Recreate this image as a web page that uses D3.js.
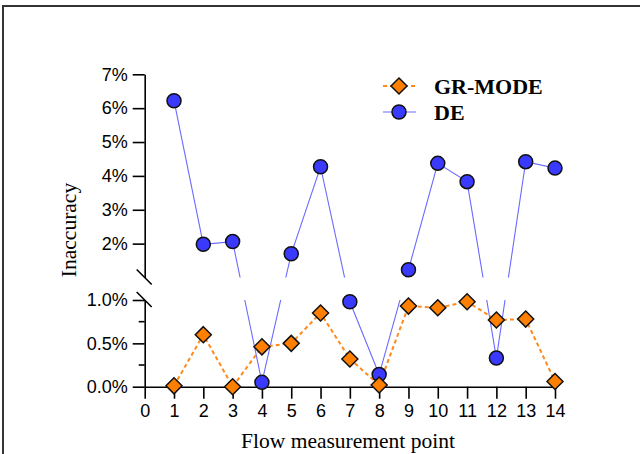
<!DOCTYPE html>
<html>
<head>
<meta charset="utf-8">
<script src="https://cdn.jsdelivr.net/npm/d3@7"></script>
<style>
  body { margin: 0; background: #fff; }
  svg { display: block; }
  .tick text { font-family: "Liberation Sans", Arial, sans-serif; font-size: 18px; fill: #000; }
  .axis path, .axis line { stroke: #000; stroke-width: 1.6; }
  .title { font-family: "Liberation Serif", "Times New Roman", serif; font-size: 21.5px; fill: #000; }
  .legend text { font-family: "Liberation Serif", "Times New Roman", serif; font-size: 22px; font-weight: bold; fill: #000; }
</style>
</head>
<body>
<svg id="chart" width="640" height="454"></svg>
<script>
// flow measurement points
var points = [1, 2, 3, 4, 5, 6, 7, 8, 9, 10, 11, 12, 13, 14];
// inaccuracy in percent
var grMode = [0.01, 0.60, 0.00, 0.46, 0.50, 0.85, 0.32, 0.02, 0.93, 0.91, 0.98, 0.77, 0.78, 0.06];
var de = [6.22, 1.98, 2.06, 0.05, 1.70, 4.27, 0.98, 0.14, 1.23, 4.37, 3.83, 0.33, 4.42, 4.23];
// tick labels
var xTicks = d3.range(0, 15);
var yTicksHigh = [2, 3, 4, 5, 6, 7];
var yTicksLow = [0, 0.5, 1];
var yMinorLow = [0.25, 0.75];
var seriesNames = ["GR-MODE", "DE"];

var svg = d3.select("#chart");

// frame round the figure
svg.append("path")
  .attr("d", "M3,454V6H640")
  .attr("fill", "none")
  .attr("stroke", "#333")
  .attr("stroke-width", 2);

var x = d3.scaleLinear().domain([0, 14]).range([144.7, 555]);
// broken y axis: low part 0-1 %, high part 1-7 %
var yLow = d3.scaleLinear().domain([0, 1]).range([386.7, 300]);
var yHigh = d3.scaleLinear().domain([1, 7]).range([277.5, 74.3]);

function yPos(v) {
  return v > 1 ? yHigh(v) : yLow(v);
}

// clip the lines so nothing is drawn inside the gap
var defs = svg.append("defs");
var clip = defs.append("clipPath").attr("id", "gapclip");
clip.append("rect").attr("x", 0).attr("y", 0).attr("width", 640).attr("height", yHigh(1));
clip.append("rect").attr("x", 0).attr("y", yLow(1)).attr("width", 640).attr("height", 454 - yLow(1));

// x axis
svg.append("g")
  .attr("class", "axis")
  .attr("transform", "translate(0," + yLow(0) + ")")
  .call(d3.axisBottom(x).tickValues(xTicks).tickSize(12).tickSizeOuter(0).tickPadding(6));

// upper y axis
svg.append("g")
  .attr("class", "axis")
  .attr("transform", "translate(" + x(0) + ",0)")
  .call(d3.axisLeft(yHigh).tickValues(yTicksHigh).tickSize(12).tickSizeOuter(0).tickPadding(5)
    .tickFormat(function (d) { return d + "%"; }));

// lower y axis
svg.append("g")
  .attr("class", "axis")
  .attr("transform", "translate(" + x(0) + ",0)")
  .call(d3.axisLeft(yLow).tickValues(yTicksLow).tickSize(12).tickSizeOuter(0).tickPadding(5)
    .tickFormat(function (d) { return d.toFixed(1) + "%"; }));

svg.append("g")
  .attr("class", "axis")
  .attr("transform", "translate(" + x(0) + ",0)")
  .selectAll("line")
  .data(yMinorLow)
  .enter()
  .append("line")
  .attr("x1", -6)
  .attr("x2", 0)
  .attr("y1", function (d) { return yLow(d); })
  .attr("y2", function (d) { return yLow(d); });

// break marks
[yHigh(1), yLow(1)].forEach(function (yy) {
  svg.append("line")
    .attr("x1", x(0) - 8).attr("y1", yy - 8)
    .attr("x2", x(0) + 7).attr("y2", yy + 7)
    .attr("stroke", "#000")
    .attr("stroke-width", 1.6);
});

// lines
var line = d3.line()
  .x(function (d, i) { return x(points[i]); })
  .y(function (d) { return yPos(d); });

svg.append("path")
  .datum(de)
  .attr("clip-path", "url(#gapclip)")
  .attr("fill", "none")
  .attr("stroke", "#6a6aff")
  .attr("stroke-width", 1.1)
  .attr("d", line);

svg.append("path")
  .datum(grMode)
  .attr("clip-path", "url(#gapclip)")
  .attr("fill", "none")
  .attr("stroke", "#ff8a1c")
  .attr("stroke-width", 2)
  .attr("stroke-dasharray", "4,3")
  .attr("d", line);

// markers
var diamond = "M0,-8L8,0L0,8L-8,0Z";

svg.append("g").selectAll("circle")
  .data(de)
  .enter()
  .append("circle")
  .attr("cx", function (d, i) { return x(points[i]); })
  .attr("cy", function (d) { return yPos(d); })
  .attr("r", 7)
  .attr("fill", "#3a3aff")
  .attr("stroke", "#111")
  .attr("stroke-width", 1.5);

svg.append("g").selectAll("path")
  .data(grMode)
  .enter()
  .append("path")
  .attr("d", diamond)
  .attr("transform", function (d, i) { return "translate(" + x(points[i]) + "," + yPos(d) + ")"; })
  .attr("fill", "#ff8000")
  .attr("stroke", "#111")
  .attr("stroke-width", 1.5);

// axis titles
svg.append("text")
  .attr("class", "title")
  .attr("x", 348)
  .attr("y", 448)
  .attr("text-anchor", "middle")
  .text("Flow measurement point");

svg.append("text")
  .attr("class", "title")
  .attr("transform", "translate(76,230) rotate(-90)")
  .attr("text-anchor", "middle")
  .text("Inaccuracy");

// legend
var legend = svg.append("g").attr("class", "legend").attr("transform", "translate(383,86)");

var gl = legend.append("g");
gl.append("line").attr("x1", 0).attr("x2", 33).attr("y1", 0).attr("y2", 0)
  .attr("stroke", "#ff8a1c").attr("stroke-width", 2).attr("stroke-dasharray", "4,3");
gl.append("path").attr("d", diamond).attr("transform", "translate(16,0)")
  .attr("fill", "#ff8000").attr("stroke", "#111").attr("stroke-width", 1.5);
gl.append("text").attr("x", 51).attr("y", 8).text(seriesNames[0]);

var dl = legend.append("g").attr("transform", "translate(0,26)");
dl.append("line").attr("x1", 0).attr("x2", 33).attr("y1", 0).attr("y2", 0)
  .attr("stroke", "#6a6aff").attr("stroke-width", 1.1);
dl.append("circle").attr("cx", 16).attr("cy", 0).attr("r", 7)
  .attr("fill", "#3a3aff").attr("stroke", "#111").attr("stroke-width", 1.5);
dl.append("text").attr("x", 51).attr("y", 8).text(seriesNames[1]);
</script>
</body>
</html>
